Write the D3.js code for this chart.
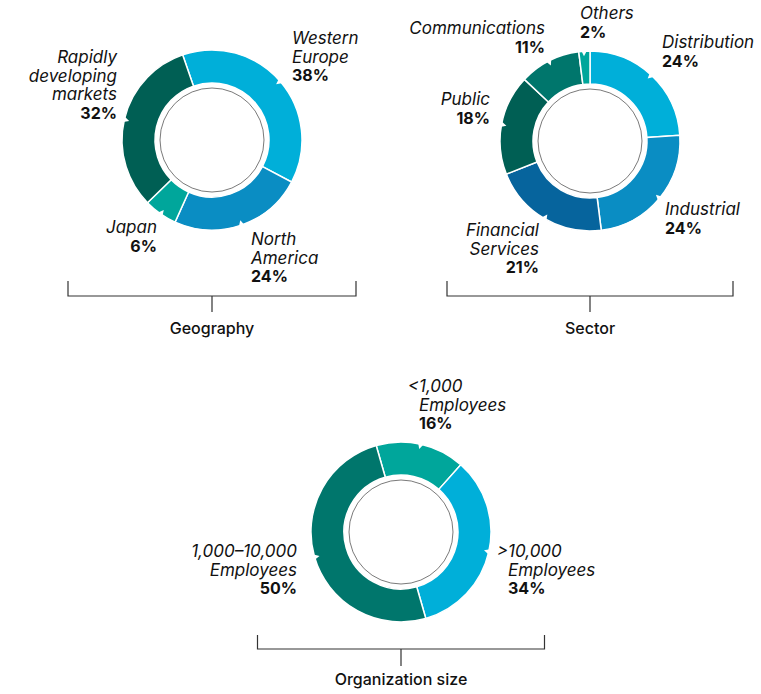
<!DOCTYPE html>
<html>
<head>
<meta charset="utf-8">
<script src="https://cdn.jsdelivr.net/npm/d3@7"></script>
<style>
  html, body { margin: 0; padding: 0; background: #fff; }
  svg { display: block; }
  text { font-family: Inter, "Liberation Sans", Arial, sans-serif; fill: #111; }
</style>
</head>
<body>
<svg id="chart" width="761" height="694"></svg>
<script>
// ---------- DATA ----------
const geoCategories = ["Western\nEurope", "North\nAmerica", "Japan", "Rapidly\ndeveloping\nmarkets"];
const geoValues = [38, 24, 6, 32];

const sectorCategories = ["Distribution", "Industrial", "Financial\nServices", "Public", "Communications", "Others"];
const sectorValues = [24, 24, 21, 18, 11, 2];

const sizeCategories = ["<1,000\nEmployees", ">10,000\nEmployees", "1,000–10,000\nEmployees"];
const sizeValues = [16, 34, 50];

const chartTitles = ["Geography", "Sector", "Organization size"];

// ---------- LAYOUT / STYLE ----------
const C = {
  lightBlue: "#00afd9",
  midBlue: "#0a8dc3",
  deepBlue: "#06649d",
  darkGreen: "#005f54",
  green: "#00766c",
  teal: "#00a69b"
};

const charts = [
  {
    cats: geoCategories, vals: geoValues, title: chartTitles[0],
    cx: 212, cy: 140, start: -19,
    colors: [C.lightBlue, C.midBlue, C.teal, C.darkGreen],
    labels: [
      { anchor: "start", dx: 80, dy: -96 },
      { anchor: "start", dx: 39, dy: 105 },
      { anchor: "end", dx: -55, dy: 93 },
      { anchor: "end", dx: -95, dy: -77 }
    ],
    bracket: { half: 144, top: 141, mid: 156, stem: 172, title: 194 }
  },
  {
    cats: sectorCategories, vals: sectorValues, title: chartTitles[1],
    cx: 590, cy: 141, start: 0,
    colors: [C.lightBlue, C.midBlue, C.deepBlue, C.darkGreen, C.green, C.teal],
    labels: [
      { anchor: "start", dx: 72, dy: -93 },
      { anchor: "start", dx: 75, dy: 74 },
      { anchor: "end", dx: -51, dy: 95 },
      { anchor: "end", dx: -100, dy: -36 },
      { anchor: "end", dx: -45, dy: -107 },
      { anchor: "start", dx: -10, dy: -122 }
    ],
    bracket: { half: 143, top: 140, mid: 155, stem: 171, title: 193 }
  },
  {
    cats: sizeCategories, vals: sizeValues, title: chartTitles[2],
    cx: 401, cy: 532, start: -16,
    colors: [C.teal, C.lightBlue, C.green],
    labels: [
      { anchor: "start", dx: 18, dy: -140, hang: true },
      { anchor: "start", dx: 107, dy: 25, hang: true },
      { anchor: "end", dx: -104, dy: 25 }
    ],
    bracket: { half: 143.5, top: 103, mid: 117, stem: 134, title: 153 }
  }
];

const R_OUT = 90, R_IN = 57, R_RING = 52;
const LINE_H = 18.5;
const FONT_LABEL = 17;
const FONT = 16;

const svg = d3.select("#chart");
const toRad = d => d * Math.PI / 180;

charts.forEach(ch => {
  const g = svg.append("g").attr("transform", `translate(${ch.cx},${ch.cy})`);
  const data = ch.cats.map((c, i) => ({ cat: c, val: ch.vals[i], color: ch.colors[i], lab: ch.labels[i] }));

  const pie = d3.pie().sort(null).value(d => d.val)
    .startAngle(toRad(ch.start)).endAngle(toRad(ch.start + 360));
  const arc = d3.arc().innerRadius(R_IN).outerRadius(R_OUT);
  const arcs = pie(data);

  g.selectAll("path.slice").data(arcs).join("path")
    .attr("class", "slice")
    .attr("d", arc)
    .attr("fill", d => d.data.color)
    .attr("stroke", "#fff")
    .attr("stroke-width", 1.5);

  // small notches on the outer edge at each slice midpoint
  g.selectAll("path.notch").data(arcs).join("path")
    .attr("class", "notch")
    .attr("d", d => {
      const a = (d.startAngle + d.endAngle) / 2;
      const w = toRad(2.2);
      const p = (ang, r) => [r * Math.sin(ang), -r * Math.cos(ang)];
      const p1 = p(a - w, R_OUT + 2), p2 = p(a + w, R_OUT + 2), p3 = p(a - w * 0.2, R_OUT - 5);
      return `M${p1}L${p2}L${p3}Z`;
    })
    .attr("fill", "#fff");

  // inner thin circle
  g.append("circle").attr("r", R_RING)
    .attr("fill", "none").attr("stroke", "#7a7a7a").attr("stroke-width", 1);

  // labels
  arcs.forEach(d => {
    const L = d.data.lab;
    const lines = d.data.cat.split("\n");
    const t = g.append("text").attr("text-anchor", L.anchor);
    lines.forEach((ln, i) => {
      const ts = t.append("tspan").attr("x", L.dx).attr("y", L.dy + i * LINE_H)
        .attr("font-size", FONT_LABEL).attr("font-style", "italic").text(ln);
      if (L.hang && i === 0) {
        const sym = ln.charAt(0);
        const tmp = g.append("text").attr("font-size", FONT_LABEL).attr("font-style", "italic").text(sym);
        const wSym = tmp.node().getComputedTextLength();
        tmp.remove();
        ts.attr("x", L.dx - wSym);
      }
    });
    t.append("tspan").attr("x", L.dx).attr("y", L.dy + lines.length * LINE_H)
      .attr("font-size", FONT).attr("font-weight", "bold").text(d.data.val + "%");
  });

  // bracket
  const b = ch.bracket;
  g.append("path")
    .attr("d", `M${-b.half},${b.top}V${b.mid}H${b.half}V${b.top}M0,${b.mid}V${b.stem}`)
    .attr("fill", "none").attr("stroke", "#333").attr("stroke-width", 1.2);
  g.append("text").attr("text-anchor", "middle").attr("y", b.title)
    .attr("font-size", FONT).attr("font-weight", 500).text(ch.title);
});
</script>
</body>
</html>
